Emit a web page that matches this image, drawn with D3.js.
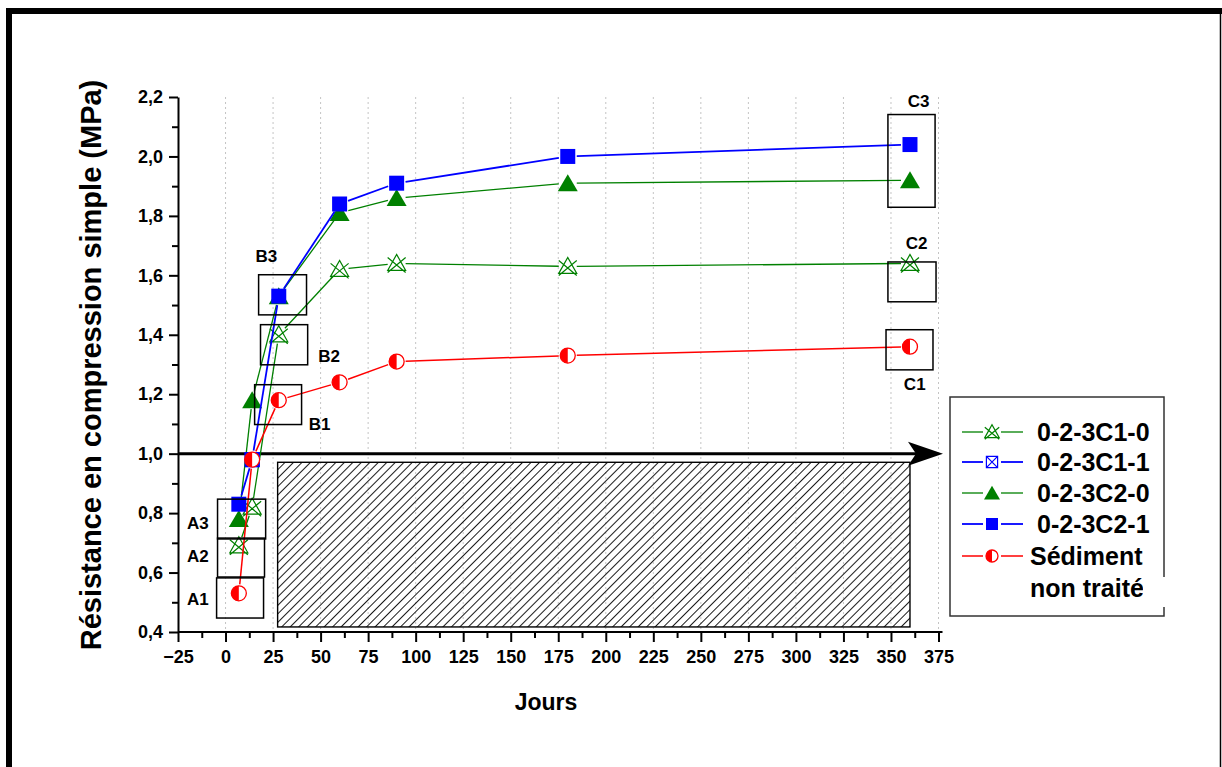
<!DOCTYPE html>
<html>
<head>
<meta charset="utf-8">
<script src="https://cdn.jsdelivr.net/npm/d3@7"></script>
<style>
  body { margin: 0; background: #fff; }
  svg text { font-family: "Liberation Sans", Arial, sans-serif; font-weight: bold; }
</style>
</head>
<body>
<svg width="1222" height="767"></svg>
<script>
// ---- data ----
var days = [7, 14, 28, 60, 90, 180, 360];
var c1_0 = [0.69, 0.82, 1.40, 1.62, 1.64, 1.63, 1.64];
var c1_1Days = [14];
var c1_1 = [0.98];
var c2_0 = [0.78, 1.18, 1.53, 1.81, 1.86, 1.91, 1.92];
var c2_1 = [0.83, 0.98, 1.53, 1.84, 1.91, 2.00, 2.04];
var sediment = [0.53, 0.98, 1.18, 1.24, 1.31, 1.33, 1.36];

var xTicks = d3.range(-25, 376, 25);
var yTicks = d3.range(0.4, 2.21, 0.2);

// annotation boxes [x0, x1, y0, y1] in data units, and their labels
var boxNames = ["A1", "A2", "A3", "B1", "B2", "B3", "C1", "C2", "C3"];
var boxes = [
  [-4.7, 20.0, 0.447, 0.582], [-4.2, 20.5, 0.585, 0.716], [-4.2, 21.1, 0.713, 0.847],
  [15.3, 40.0, 1.098, 1.232], [18.4, 43.2, 1.299, 1.434], [17.4, 42.6, 1.467, 1.602],
  [347.4, 372.1, 1.282, 1.417], [348.4, 373.7, 1.511, 1.645], [348.4, 373.2, 1.829, 2.141]
];
var boxLabels = [
  [-14.5, 0.51], [-14.5, 0.655], [-14.5, 0.765],
  [49.5, 1.10], [54.5, 1.33], [21.5, 1.665],
  [362.5, 1.235], [363.5, 1.71], [364.5, 2.188]
];
var hatch = [27.4, 360, 0.417, 0.971];

var svg = d3.select("svg");

var x = d3.scaleLinear().domain([-25, 375]).range([178, 938.5]);
var y = d3.scaleLinear().domain([0.4, 2.2]).range([632, 97]);

// outer frame
svg.append("rect").attr("x", 6).attr("y", 8).attr("width", 1216).attr("height", 6).attr("fill", "#000");
svg.append("rect").attr("x", 6).attr("y", 8).attr("width", 6).attr("height", 759).attr("fill", "#000");
svg.append("line").attr("x1", 1220.5).attr("x2", 1220.5).attr("y1", 8).attr("y2", 767)
    .attr("stroke", "#000").attr("stroke-width", 1.5);

// hatch pattern
var defs = svg.append("defs");
var pat = defs.append("pattern").attr("id", "hatch").attr("patternUnits", "userSpaceOnUse")
    .attr("width", 6).attr("height", 6).attr("patternTransform", "rotate(45)");
pat.append("line").attr("x1", 0).attr("y1", 0).attr("x2", 0).attr("y2", 6)
    .attr("stroke", "#000").attr("stroke-width", 1.8);

// dotted grid
svg.append("g").selectAll("line")
    .data(xTicks.filter(function(d) { return d > -25; }))
    .enter().append("line")
    .attr("x1", function(d) { return x(d); }).attr("x2", function(d) { return x(d); })
    .attr("y1", y(2.2)).attr("y2", y(0.4))
    .attr("stroke", "#c4c4c4").attr("stroke-width", 1).attr("stroke-dasharray", "2,3");

// hatched area
svg.append("rect")
    .attr("x", x(hatch[0])).attr("y", y(hatch[3]))
    .attr("width", x(hatch[1]) - x(hatch[0])).attr("height", y(hatch[2]) - y(hatch[3]))
    .attr("fill", "url(#hatch)").attr("stroke", "#000").attr("stroke-width", 1.4);

// axes
var xAxis = svg.append("g").attr("transform", "translate(0," + y(0.4) + ")")
    .call(d3.axisBottom(x).tickValues(xTicks).tickSize(10).tickPadding(8).tickSizeOuter(0));
svg.append("g").attr("transform", "translate(0," + y(0.4) + ")")
    .call(d3.axisBottom(x).tickValues(xTicks.slice(0, -1).map(function(d) { return d + 12.5; }))
      .tickSize(6).tickFormat("").tickSizeOuter(0))
    .select(".domain").remove();
xAxis.select(".domain").attr("d", "M" + x(-25) + ",0H" + (x(375) + 4));

var fmt = function(d) { return d3.format(".1f")(d).replace(".", ","); };
var yAxis = svg.append("g").attr("transform", "translate(" + x(-25) + ",0)")
    .call(d3.axisLeft(y).tickValues(yTicks).tickSize(9).tickPadding(6).tickFormat(fmt).tickSizeOuter(0));
svg.append("g").attr("transform", "translate(" + x(-25) + ",0)")
    .call(d3.axisLeft(y).tickValues(yTicks.slice(0, -1).map(function(d) { return d + 0.1; }))
      .tickSize(6).tickFormat("").tickSizeOuter(0))
    .select(".domain").remove();

svg.selectAll(".domain").attr("stroke", "#000").attr("stroke-width", 2);
svg.selectAll(".tick line").attr("stroke", "#000").attr("stroke-width", 2);
svg.selectAll(".tick text").attr("font-size", 18).attr("fill", "#000");

// axis titles
svg.append("text").attr("x", 546).attr("y", 710).attr("text-anchor", "middle")
    .attr("font-size", 23).text("Jours");
svg.append("text").attr("transform", "translate(101,365) rotate(-90)").attr("text-anchor", "middle")
    .attr("font-size", 29).text("Résistance en compression simple (MPa)");

// arrow along 1,0
svg.append("line").attr("x1", x(-25)).attr("x2", 918).attr("y1", y(1.0)).attr("y2", y(1.0))
    .attr("stroke", "#000").attr("stroke-width", 3);
svg.append("path")
    .attr("d", "M943," + y(1.0) + "L908," + (y(1.0) - 12) + "L916," + y(1.0) + "L908," + (y(1.0) + 12) + "Z")
    .attr("fill", "#000");

// markers
function marker(g, type, color, s) {
  s = s || 1;
  if (type === "star") {
    g.append("path")
      .attr("d", "M" + (-9 * s) + "," + (7 * s) + "L0," + (-9 * s) + "L" + (9 * s) + "," + (7 * s) + "Z" +
        "M" + (-9 * s) + "," + (-6 * s) + "L" + (9 * s) + "," + (9 * s) +
        "M" + (9 * s) + "," + (-6 * s) + "L" + (-9 * s) + "," + (9 * s))
      .attr("fill", "none").attr("stroke", color).attr("stroke-width", 1.2);
  } else if (type === "sqx") {
    g.append("path")
      .attr("d", "M" + (-7 * s) + "," + (-7 * s) + "H" + (7 * s) + "V" + (7 * s) + "H" + (-7 * s) + "Z" +
        "M" + (-7 * s) + "," + (-7 * s) + "L" + (7 * s) + "," + (7 * s) +
        "M" + (7 * s) + "," + (-7 * s) + "L" + (-7 * s) + "," + (7 * s))
      .attr("fill", "#fff").attr("stroke", color).attr("stroke-width", 1.2);
  } else if (type === "tri") {
    g.append("path").attr("d", "M0," + (-9 * s) + "L" + (10 * s) + "," + (8 * s) + "L" + (-10 * s) + "," + (8 * s) + "Z")
      .attr("fill", color);
  } else if (type === "sq") {
    g.append("rect").attr("x", -7.5 * s).attr("y", -7.5 * s).attr("width", 15 * s).attr("height", 15 * s)
      .attr("fill", color);
  } else if (type === "half") {
    var r = 7.5 * s;
    g.append("circle").attr("r", r).attr("fill", "#fff").attr("stroke", color).attr("stroke-width", 1.3);
    g.append("path").attr("d", "M0," + (-r) + "A" + r + "," + r + " 0 0 0 0," + r + "Z").attr("fill", color);
  }
}

var series = [
  {name: "0-2-3C1-0", x: days, y: c1_0, color: "#008000", type: "star", w: 1.3},
  {name: "0-2-3C1-1", x: c1_1Days, y: c1_1, color: "#0000ff", type: "sqx", w: 1.8},
  {name: "0-2-3C2-0", x: days, y: c2_0, color: "#008000", type: "tri", w: 1.3},
  {name: "0-2-3C2-1", x: days, y: c2_1, color: "#0000ff", type: "sq", w: 1.8},
  {name: "Sédiment", x: days, y: sediment, color: "#ff0000", type: "half", w: 1.5}
];

var gap = 9;
series.forEach(function(s) {
  var g = svg.append("g");
  var pts = s.x.map(function(d, i) { return [x(d), y(s.y[i])]; });
  for (var i = 1; i < pts.length; i++) {
    var a = pts[i - 1], b = pts[i];
    var dx = b[0] - a[0], dy = b[1] - a[1], len = Math.sqrt(dx * dx + dy * dy);
    if (len <= 2 * gap) continue;
    var ux = dx / len, uy = dy / len;
    g.append("line")
      .attr("x1", a[0] + ux * gap).attr("y1", a[1] + uy * gap)
      .attr("x2", b[0] - ux * gap).attr("y2", b[1] - uy * gap)
      .attr("stroke", s.color).attr("stroke-width", s.w);
  }
  pts.forEach(function(p) {
    marker(g.append("g").attr("transform", "translate(" + p[0] + "," + p[1] + ")"), s.type, s.color);
  });
});

// annotation boxes
svg.append("g").selectAll("rect").data(boxes).enter().append("rect")
    .attr("x", function(d) { return x(d[0]); })
    .attr("y", function(d) { return y(d[3]); })
    .attr("width", function(d) { return x(d[1]) - x(d[0]); })
    .attr("height", function(d) { return y(d[2]) - y(d[3]); })
    .attr("fill", "none").attr("stroke", "#000").attr("stroke-width", 1.5);
svg.append("g").selectAll("text").data(boxLabels).enter().append("text")
    .attr("x", function(d) { return x(d[0]); })
    .attr("y", function(d) { return y(d[1]); })
    .attr("dy", "0.35em").attr("text-anchor", "middle").attr("font-size", 17)
    .text(function(d, i) { return boxNames[i]; });

// legend
var legend = svg.append("g");
legend.append("rect").attr("x", 950).attr("y", 397).attr("width", 214).attr("height", 219)
    .attr("fill", "#fff").attr("stroke", "#333").attr("stroke-width", 1.5);
var rowY = [432, 462, 493, 524, 556];
series.forEach(function(s, i) {
  var ly = rowY[i];
  legend.append("line").attr("x1", 962).attr("x2", 983).attr("y1", ly).attr("y2", ly)
      .attr("stroke", s.color).attr("stroke-width", s.w);
  legend.append("line").attr("x1", 1001).attr("x2", 1023).attr("y1", ly).attr("y2", ly)
      .attr("stroke", s.color).attr("stroke-width", s.w);
  marker(legend.append("g").attr("transform", "translate(992," + ly + ")"), s.type, s.color, 0.8);
  legend.append("text").attr("x", i < 4 ? 1037 : 1030).attr("y", ly).attr("dy", "0.36em")
      .attr("font-size", 25).text(s.name);
});
legend.append("text").attr("x", 1030).attr("y", 588).attr("dy", "0.36em")
    .attr("font-size", 25).text("non traité");
// the right edge of the legend is cut off in the original
legend.append("rect").attr("x", 1143).attr("y", 577).attr("width", 24).attr("height", 30).attr("fill", "#fff");
</script>
</body>
</html>
